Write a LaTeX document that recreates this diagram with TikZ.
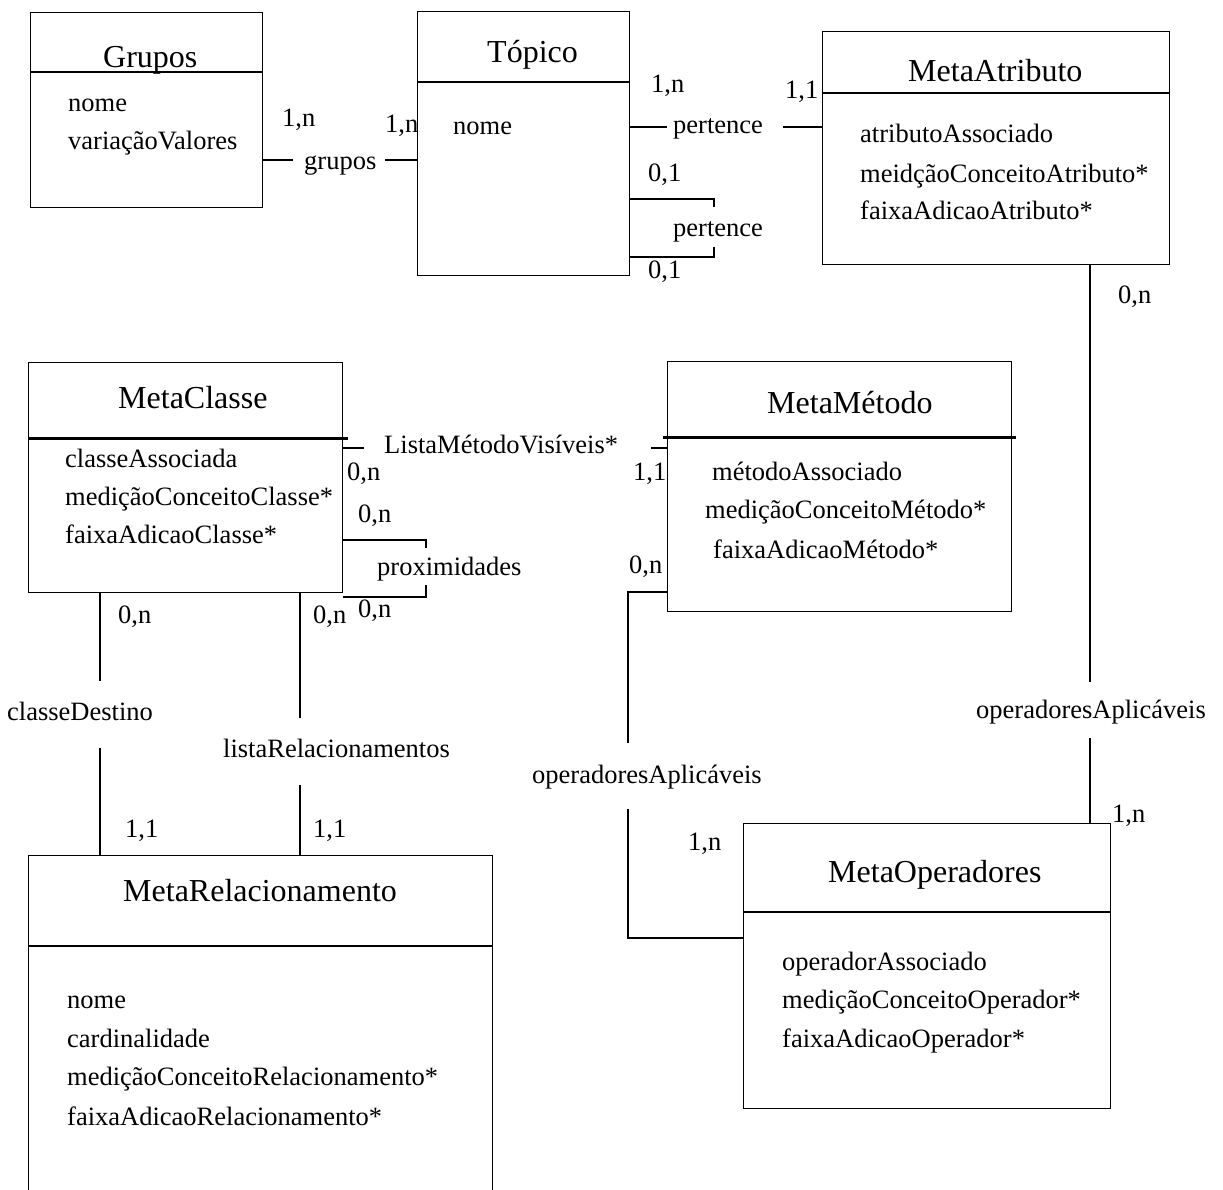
\documentclass[tikz,border=0pt]{standalone}
\usepackage{fontspec}
\setmainfont{Liberation Serif}
\usetikzlibrary{positioning}

\begin{document}
\begin{tikzpicture}[x=1pt,y=-1pt,
  classe/.style={draw,line width=1.3pt,anchor=north west,inner sep=0pt},
  titulo/.style={anchor=base west,inner sep=0pt,font=\fontsize{32}{38}\selectfont},
  attr/.style={anchor=base west,inner sep=0pt,font=\fontsize{26.5}{32}\selectfont},
  liga/.style={line width=1.3pt},
  grossa/.style={line width=3pt}]
\clip (0,0) rectangle (1223,1190);

% classes
\node[classe,minimum width=232,minimum height=195] (grupos) at (30,12) {};
\node[classe,minimum width=212,minimum height=264] (topico) at (417,11) {};
\node[classe,minimum width=347,minimum height=233] (metaatr) at (822,31) {};
\node[classe,minimum width=314,minimum height=230] (metaclasse) at (28,362) {};
\node[classe,minimum width=344,minimum height=250] (metametodo) at (667,361) {};
\node[classe,minimum width=464,minimum height=400] (metarel) at (28,855) {};
\node[classe,minimum width=367,minimum height=285] (metaop) at (743,823) {};

\draw[liga] (grupos.west |- 0,72) -- (grupos.east |- 0,72);
\draw[liga] (topico.west |- 0,82) -- (topico.east |- 0,82);
\draw[liga] (metaatr.west |- 0,93) -- (metaatr.east |- 0,93);
\draw[grossa] (metaclasse.west |- 0,438) -- ([xshift=5pt]metaclasse.east |- 0,438);
\draw[grossa] ([xshift=-4pt]metametodo.west |- 0,437) -- ([xshift=4pt]metametodo.east |- 0,437);
\draw[liga] (metarel.west |- 0,946) -- (metarel.east |- 0,946);
\draw[liga] (metaop.west |- 0,912) -- (metaop.east |- 0,912);

% titles
\node[titulo] (t-grupos) at (103,68) {Grupos};
\node[titulo] (t-topico) at (487,63) {Tópico};
\node[titulo] (t-metaatr) at (908,82) {MetaAtributo};
\node[titulo] (t-metaclasse) at (118,408) {MetaClasse};
\node[titulo] (t-metametodo) at (767,413) {MetaMétodo};
\node[titulo] (t-metarel) at (123,901) {MetaRelacionamento};
\node[titulo] (t-metaop) at (828,882) {MetaOperadores};

% attributes
\node[attr] (a-grupos1) at (68,112) {nome};
\node[attr] (a-grupos2) at (68,150) {variaçãoValores};
\node[attr] (a-topico1) at (453,135) {nome};
\node[attr] (a-metaatr1) at (860,143) {atributoAssociado};
\node[attr] (a-metaatr2) at (860,183) {meidçãoConceitoAtributo*};
\node[attr] (a-metaatr3) at (860,220) {faixaAdicaoAtributo*};
\node[attr] (a-metaclasse1) at (65,467) {classeAssociada};
\node[attr] (a-metaclasse2) at (65,505) {mediçãoConceitoClasse*};
\node[attr] (a-metaclasse3) at (65,543) {faixaAdicaoClasse*};
\node[attr] (a-metametodo1) at (712,480) {métodoAssociado};
\node[attr] (a-metametodo2) at (705,518) {mediçãoConceitoMétodo*};
\node[attr] (a-metametodo3) at (713,558) {faixaAdicaoMétodo*};
\node[attr] (a-metarel1) at (67,1008) {nome};
\node[attr] (a-metarel2) at (67,1047) {cardinalidade};
\node[attr] (a-metarel3) at (67,1085) {mediçãoConceitoRelacionamento*};
\node[attr] (a-metarel4) at (67,1125) {faixaAdicaoRelacionamento*};
\node[attr] (a-metaop1) at (782,970) {operadorAssociado};
\node[attr] (a-metaop2) at (782,1008) {mediçãoConceitoOperador*};
\node[attr] (a-metaop3) at (782,1047) {faixaAdicaoOperador*};

% grupos
\coordinate (g1) at (293,160);
\coordinate (g2) at (385,160);
\draw[liga] (grupos.east |- g1) -- (g1);
\draw[liga] (g2) -- (topico.west |- g2);
\node[attr] (r-grupos) at (304,170) {grupos};
\node[attr] (k-grupos1) at (282,127) {1,n};
\node[attr] (k-grupos2) at (385,133) {1,n};

% pertence
\coordinate (p1) at (667,127);
\coordinate (p2) at (783,127);
\draw[liga] (topico.east |- p1) -- (p1);
\draw[liga] (p2) -- (metaatr.west |- p2);
\node[attr] (r-pertence) at (673,134) {pertence};
\node[attr] (k-pertence1) at (651,93) {1,n};
\node[attr] (k-pertence2) at (785,99) {1,1};

% pertence (auto)
\coordinate (s1) at (714,207);
\coordinate (s2) at (714,247);
\draw[liga] (topico.east |- 0,199) -| (s1);
\draw[liga] (s2) |- (topico.east |- 0,257);
\node[attr] (r-pertence2) at (673,237) {pertence};
\node[attr] (k-pertence3) at (648,182) {0,1};
\node[attr] (k-pertence4) at (648,279) {0,1};

% operadoresAplicaveis (atributo)
\coordinate (o1) at (1090,682);
\coordinate (o2) at (1090,738);
\draw[liga] (metaatr.south -| o1) -- (o1);
\draw[liga] (o2) -- (metaop.north -| o2);
\node[attr] (r-opatr) at (976,718) {operadoresAplicáveis};
\node[attr] (k-opatr1) at (1118,303) {0,n};
\node[attr] (k-opatr2) at (1112,822) {1,n};

% ListaMetodoVisiveis
\coordinate (l1) at (364,448);
\coordinate (l2) at (651,448);
\draw[liga] (metaclasse.east |- l1) -- (l1);
\draw[liga] (l2) -- (metametodo.west |- l2);
\node[attr] (r-lista) at (384,453) {ListaMétodoVisíveis*};
\node[attr] (k-lista1) at (347,480) {0,n};
\node[attr] (k-lista2) at (633,480) {1,1};

% proximidades
\coordinate (x1) at (426,548);
\coordinate (x2) at (426,585);
\draw[liga] (metaclasse.east |- 0,540) -| (x1);
\draw[liga] (x2) |- (metaclasse.east |- 0,597);
\node[attr] (r-prox) at (377,575) {proximidades};
\node[attr] (k-prox1) at (358,522) {0,n};
\node[attr] (k-prox2) at (358,617) {0,n};

% classeDestino
\coordinate (c1) at (100,681);
\coordinate (c2) at (100,748);
\draw[liga] (metaclasse.south -| c1) -- (c1);
\draw[liga] (c2) -- (metarel.north -| c2);
\node[attr] (r-destino) at (7,720) {classeDestino};
\node[attr] (k-destino1) at (118,623) {0,n};
\node[attr] (k-destino2) at (125,837) {1,1};

% listaRelacionamentos
\coordinate (q1) at (300,718);
\coordinate (q2) at (300,785);
\draw[liga] (metaclasse.south -| q1) -- (q1);
\draw[liga] (q2) -- (metarel.north -| q2);
\node[attr] (r-listarel) at (223,757) {listaRelacionamentos};
\node[attr] (k-listarel1) at (313,623) {0,n};
\node[attr] (k-listarel2) at (313,837) {1,1};

% operadoresAplicaveis (metodo)
\coordinate (m1) at (628,743);
\coordinate (m2) at (628,809);
\draw[liga] (metametodo.west |- 0,592) -| (m1);
\draw[liga] (m2) |- (metaop.west |- 0,938);
\node[attr] (r-opmet) at (532,783) {operadoresAplicáveis};
\node[attr] (k-opmet1) at (629,573) {0,n};
\node[attr] (k-opmet2) at (688,850) {1,n};
\end{tikzpicture}
\end{document}
